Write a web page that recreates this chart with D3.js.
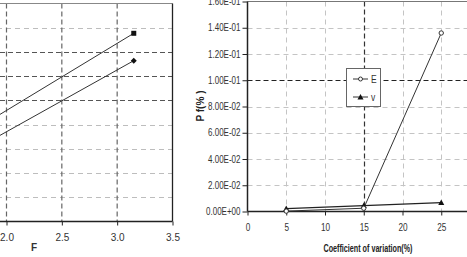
<!DOCTYPE html>
<html><head><meta charset="utf-8">
<script src="https://cdn.jsdelivr.net/npm/d3@7"></script>
<style>
html,body{margin:0;padding:0;background:#fff;}
svg{display:block;}
text{font-family:"Liberation Sans",Arial,sans-serif;}
</style>
</head><body>
<svg id="c" width="467" height="257"></svg>
<script>
// ---- Left chart data (F axis) ----
const leftF = [1.5, 3.15];
const leftSquare = [3.20, 7.77];
const leftDiamond = [2.43, 6.64];
const leftXTicks = [2.0, 2.5, 3.0, 3.5];
const leftGridMinor = [1, 2, 3, 4, 8];
const leftGridMajor = [5, 6, 7];
const leftXLabel = "F";

// ---- Right chart data ----
const cov = [5, 15, 25];
const seriesE = [0.0003, 0.0025, 0.136];
const seriesV = [0.0022, 0.0045, 0.0068];
const rightXTicks = [0, 5, 10, 15, 20, 25];
const rightYTicks = [0, 0.02, 0.04, 0.06, 0.08, 0.10, 0.12, 0.14, 0.16];
const rightYTickLabels = ["0.00E+00","2.00E-02","4.00E-02","6.00E-02","8.00E-02","1.00E-01","1.20E-01","1.40E-01","1.60E-01"];
const rightXGridMinor = [5, 10, 20, 25];
const rightXGridMajor = [15];
const rightYGridMinor = [0.02, 0.04, 0.06, 0.08, 0.12, 0.14];
const rightYGridMajor = [0.10];
const legendLabels = ["E", "v"];
const rightXLabel = "Coefficient of variation(%)";
const rightYLabel = "P f(% )";

const svg = d3.select("#c");
svg.append("rect").attr("width",467).attr("height",257).attr("fill","#fff");

function narrow(sel, f){
  sel.each(function(){
    const w = this.getComputedTextLength();
    d3.select(this).attr("textLength", w*(f||0.82)).attr("lengthAdjust","spacingAndGlyphs");
  });
}

// ================= LEFT CHART =================
const xL = d3.scaleLinear().domain([2.0, 3.5]).range([6.5, 172.5]);
const yL = d3.scaleLinear().domain([0, 9]).range([221.5, 3.5]);
const gL = svg.append("g");
const lLeft = -120, lRight = 172.5;

gL.selectAll(".gmin").data(leftGridMinor).join("line")
  .attr("x1", lLeft).attr("x2", lRight).attr("y1", d=>Math.round(yL(d))+0.5).attr("y2", d=>Math.round(yL(d))+0.5)
  .attr("stroke","#bdbdbd").attr("stroke-width",1).attr("stroke-dasharray","5,4");
gL.selectAll(".gmaj").data(leftGridMajor).join("line")
  .attr("x1", lLeft).attr("x2", lRight).attr("y1", d=>Math.round(yL(d))+0.5).attr("y2", d=>Math.round(yL(d))+0.5)
  .attr("stroke","#555").attr("stroke-width",1).attr("stroke-dasharray","5,3");
gL.selectAll(".vg").data(leftXTicks.slice(0,3)).join("line")
  .attr("x1", d=>xL(d)).attr("x2", d=>xL(d)).attr("y1", yL(9)).attr("y2", yL(0))
  .attr("stroke","#666").attr("stroke-width",1.2).attr("stroke-dasharray","5,3");
gL.append("line").attr("x1",lLeft).attr("x2",lRight).attr("y1",yL(9)).attr("y2",yL(9)).attr("stroke","#888").attr("stroke-width",1.2);
gL.append("line").attr("x1",lRight).attr("x2",lRight).attr("y1",yL(9)).attr("y2",yL(0)).attr("stroke","#222").attr("stroke-width",1.3);
const axL = d3.axisBottom(xL).tickValues(leftXTicks).tickFormat(d3.format(".1f")).tickSize(4);
const axLg = gL.append("g").attr("transform",`translate(0,${yL(0)})`).call(axL);
axLg.select(".domain").remove();
axLg.append("line").attr("x1",lLeft).attr("x2",lRight).attr("stroke","#222").attr("stroke-width",1.5);
axLg.selectAll(".tick line").attr("stroke","#222");
axLg.selectAll(".tick text").attr("font-size",10).attr("fill","#333").attr("dy",null).attr("y",19);
gL.append("text").attr("x",34).attr("y",251).attr("font-size",10).attr("font-weight","bold").attr("fill","#333").attr("text-anchor","middle").text(leftXLabel);
const lineL = (vals)=> d3.line().x((d,i)=>xL(leftF[i])).y(d=>yL(d))(vals);
gL.append("path").attr("d",lineL(leftSquare)).attr("fill","none").attr("stroke","#333").attr("stroke-width",1);
gL.append("path").attr("d",lineL(leftDiamond)).attr("fill","none").attr("stroke","#333").attr("stroke-width",1);
gL.selectAll(".sq").data(leftSquare).join("rect")
  .attr("x",(d,i)=>xL(leftF[i])-2.5).attr("y",d=>yL(d)-2.5).attr("width",5).attr("height",5).attr("fill","#111");
gL.selectAll(".dm").data(leftDiamond).join("path")
  .attr("d",(d,i)=>{const x=xL(leftF[i]),y=yL(d);return `M${x},${y-3}L${x+3},${y}L${x},${y+3}L${x-3},${y}Z`;})
  .attr("fill","#111");

// ================= RIGHT CHART =================
const xR = d3.scaleLinear().domain([0, 30]).range([247.5, 480]);
const yR = d3.scaleLinear().domain([0, 0.16]).range([211.5, 1.5]);
const gR = svg.append("g");
const rRight = 480;

gR.selectAll(".ygmin").data(rightYGridMinor).join("line")
  .attr("x1", xR(0)).attr("x2", rRight).attr("y1", d=>Math.round(yR(d))+0.5).attr("y2", d=>Math.round(yR(d))+0.5)
  .attr("stroke","#c4c4c4").attr("stroke-width",1).attr("stroke-dasharray","5,4");
gR.selectAll(".xgmin").data(rightXGridMinor).join("line")
  .attr("x1", d=>Math.round(xR(d))+0.5).attr("x2", d=>Math.round(xR(d))+0.5).attr("y1", yR(0.16)).attr("y2", yR(0))
  .attr("stroke","#c4c4c4").attr("stroke-width",1).attr("stroke-dasharray","5,4");
gR.selectAll(".ygmaj").data(rightYGridMajor).join("line")
  .attr("x1", xR(0)).attr("x2", rRight).attr("y1", d=>Math.round(yR(d))+0.5).attr("y2", d=>Math.round(yR(d))+0.5)
  .attr("stroke","#222").attr("stroke-width",1).attr("stroke-dasharray","5,3");
gR.selectAll(".xgmaj").data(rightXGridMajor).join("line")
  .attr("x1", d=>Math.round(xR(d))+0.5).attr("x2", d=>Math.round(xR(d))+0.5).attr("y1", yR(0.16)).attr("y2", yR(0))
  .attr("stroke","#333").attr("stroke-width",1.2).attr("stroke-dasharray","5,3");
gR.append("line").attr("x1",xR(0)).attr("x2",rRight).attr("y1",yR(0.16)).attr("y2",yR(0.16)).attr("stroke","#777").attr("stroke-width",1.2);
const axRy = d3.axisLeft(yR).tickValues(rightYTicks).tickFormat((d,i)=>rightYTickLabels[i]).tickSize(5);
const ayg = gR.append("g").attr("transform",`translate(${xR(0)},0)`).call(axRy);
ayg.select(".domain").attr("stroke","#222").attr("stroke-width",1.5).attr("d",`M0,${yR(0.16)}V${yR(0)}`);
ayg.selectAll(".tick line").attr("stroke","#222");
ayg.selectAll(".tick text").attr("font-size",10).attr("fill","#333").attr("x",-7).call(narrow, 0.8);
const axRx = d3.axisBottom(xR).tickValues(rightXTicks).tickFormat(d3.format("d")).tickSize(4);
const axg = gR.append("g").attr("transform",`translate(0,${yR(0)})`).call(axRx);
axg.select(".domain").attr("stroke","#222").attr("stroke-width",1.5).attr("d",`M${xR(0)},0H${rRight}`);
axg.selectAll(".tick line").attr("stroke","#222");
axg.selectAll(".tick text").attr("font-size",10).attr("fill","#333").attr("dy",null).attr("y",19).call(narrow, 0.82);
gR.append("text").attr("x",368).attr("y",252).attr("font-size",11).attr("font-weight","bold").attr("fill","#222").attr("text-anchor","middle")
  .attr("textLength",89).attr("lengthAdjust","spacingAndGlyphs").text(rightXLabel);
gR.append("text").attr("transform","translate(203.5,106) rotate(-90)").attr("font-size",10.5).attr("font-weight","bold").attr("fill","#222").attr("text-anchor","middle")
  .attr("textLength",31).attr("lengthAdjust","spacingAndGlyphs").text(rightYLabel);
const lineR = (vals)=> d3.line().x((d,i)=>xR(cov[i])).y(d=>yR(d))(vals);
gR.append("path").attr("d",lineR(seriesV)).attr("fill","none").attr("stroke","#222").attr("stroke-width",1.2);
gR.append("path").attr("d",lineR(seriesE)).attr("fill","none").attr("stroke","#333").attr("stroke-width",1);
const tri = (x,y)=>`M${x},${y-3}L${x+3},${y+2.5}L${x-3},${y+2.5}Z`;
gR.selectAll(".tv").data(seriesV).join("path").attr("d",(d,i)=>tri(xR(cov[i]),yR(d))).attr("fill","#111");
gR.selectAll(".ce").data(seriesE).join("circle").attr("cx",(d,i)=>xR(cov[i])).attr("cy",d=>yR(d)).attr("r",2.2)
  .attr("fill","#fff").attr("stroke","#333").attr("stroke-width",1);
const lg = gR.append("g");
lg.append("rect").attr("x",346.5).attr("y",68.5).attr("width",34).attr("height",38).attr("fill","#fff").attr("stroke","#666").attr("stroke-width",1);
const legY = [79, 97];
lg.selectAll(".ll").data(legendLabels).join("line").attr("x1",353).attr("x2",368).attr("y1",(d,i)=>legY[i]).attr("y2",(d,i)=>legY[i]).attr("stroke","#333").attr("stroke-width",1);
lg.append("circle").attr("cx",360.5).attr("cy",legY[0]).attr("r",2).attr("fill","#fff").attr("stroke","#333");
lg.append("path").attr("d",tri(360.5,legY[1])).attr("fill","#111");
lg.selectAll(".lt").data(legendLabels).join("text").attr("x",371).attr("y",(d,i)=>legY[i]+3.5)
  .attr("font-size",10).attr("fill","#333").text(d=>d).call(narrow, 0.85);
</script>
</body></html>
